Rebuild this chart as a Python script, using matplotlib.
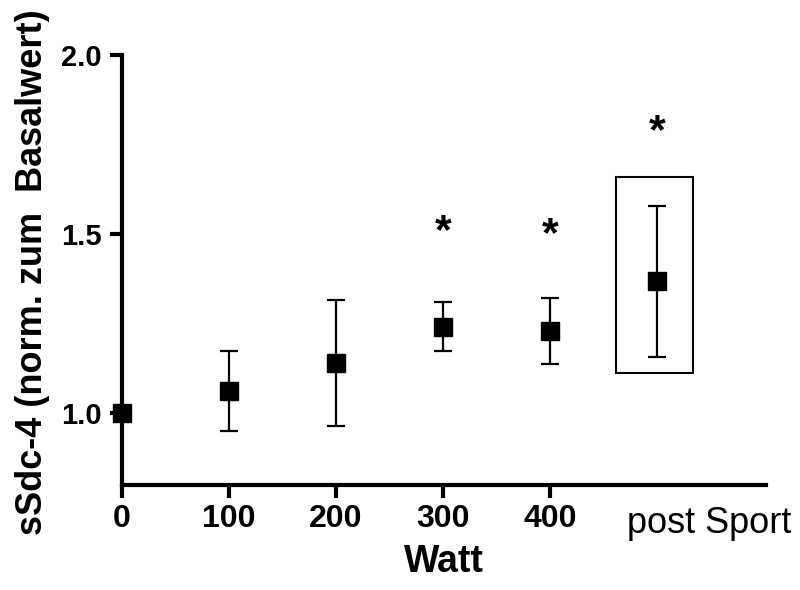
import matplotlib
matplotlib.use("Agg")
import matplotlib.pyplot as plt
from matplotlib.patches import Rectangle

plt.rcParams['font.family'] = ['Liberation Sans', 'DejaVu Sans']

# Daten (normiert zum Basalwert)
watt = [0, 100, 200, 300, 400, 500]
werte = [1.0, 1.062, 1.140, 1.242, 1.230, 1.368]
fehler = [0.0, 0.112, 0.175, 0.069, 0.091, 0.210]
signifikant = [False, False, False, True, True, True]
stern_y = [0, 0, 0, 1.506, 1.497, 1.785]
xtick_pos = [0, 100, 200, 300, 400]
xtick_lab = ['0', '100', '200', '300', '400']
ytick_pos = [1.0, 1.5, 2.0]
ytick_lab = ['1.0', '1.5', '2.0']

fig = plt.figure(figsize=(8, 5.9), dpi=100)
ax = fig.add_axes([0.1525, 0.178, 0.805, 0.7288])

ax.errorbar(watt, werte, yerr=fehler, fmt='s', color='black', ms=13,
            elinewidth=1.6, capsize=6.5, capthick=1.6, zorder=3, clip_on=False)

for x, y, s in zip(watt, stern_y, signifikant):
    if s:
        ax.text(x, y, '*', ha='center', va='center', fontsize=31, fontweight='bold')

# Rahmen um "post Sport"
ax.add_patch(Rectangle((461.7, 1.112), 71.9, 0.548, fill=False, lw=1.5,
                       edgecolor='black', zorder=2))

ax.set_xlim(0, 602)
ax.set_ylim(0.8, 2.0)
ax.set_xticks(xtick_pos)
ax.set_xticklabels(xtick_lab, fontsize=23, fontweight='bold')
ax.set_yticks(ytick_pos)
ax.set_yticklabels(ytick_lab, fontsize=21, fontweight='bold')

for side in ['top', 'right']:
    ax.spines[side].set_visible(False)
for side in ['left', 'bottom']:
    ax.spines[side].set_linewidth(3)

ax.tick_params(axis='x', width=3, length=9, pad=5)
ax.tick_params(axis='y', width=3, length=8.5, pad=6)

ax.text(472, -0.05, 'post Sport', transform=ax.get_xaxis_transform(),
        ha='left', va='top', fontsize=26)

ax.set_xlabel('Watt', fontsize=27, fontweight='bold')
ax.xaxis.set_label_coords(0.5, -0.138)
ax.set_ylabel('sSdc-4 (norm. zum  Basalwert)', fontsize=26, fontweight='bold')
ax.yaxis.set_label_coords(-0.112, 0.495)

fig.savefig('out.png', dpi=100)
